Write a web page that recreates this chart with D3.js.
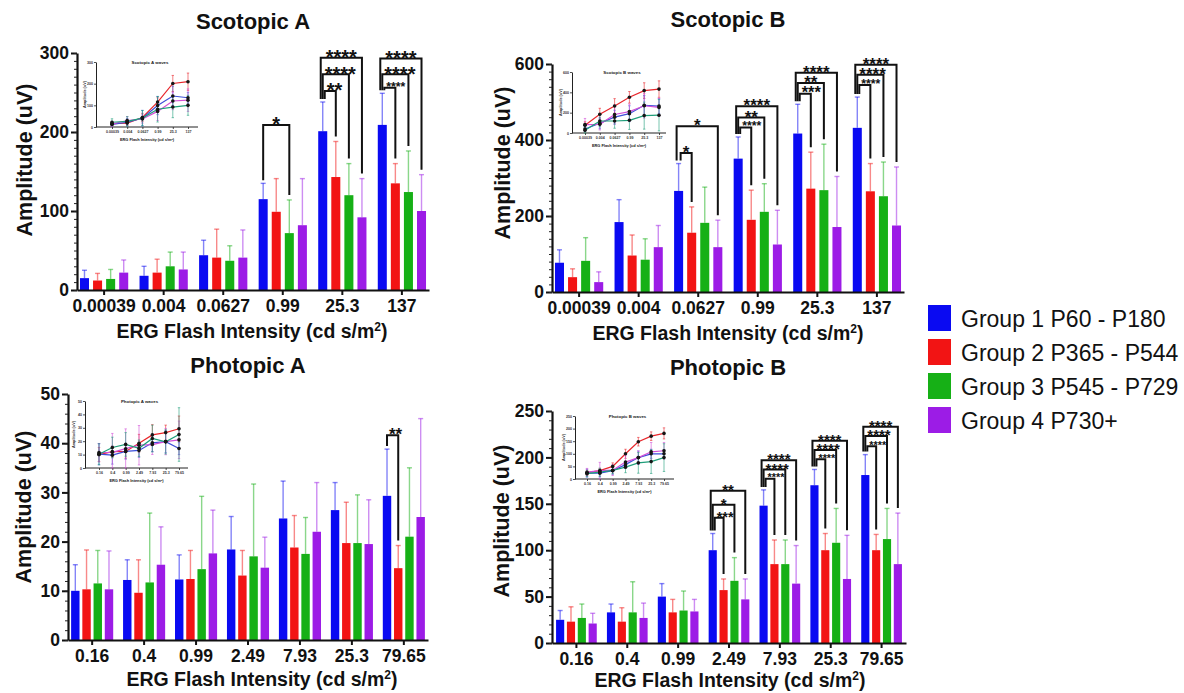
<!DOCTYPE html>
<html>
<head>
<meta charset="utf-8">
<script src="https://cdn.jsdelivr.net/npm/d3@7"></script>
<style>
  html, body { margin: 0; padding: 0; background: #fff; }
  svg { display: block; font-family: "Liberation Sans", Arial, Helvetica, sans-serif; }
</style>
</head>
<body>
<svg id="chart" width="1184" height="693"></svg>
<script>
// ---- data -------------------------------------------------------------
const groups = ["Group 1 P60 - P180", "Group 2 P365 - P544", "Group 3 P545 - P729", "Group 4 P730+"];
const scotopicIntensities = ["0.00039", "0.004", "0.0627", "0.99", "25.3", "137"];
const photopicIntensities = ["0.16", "0.4", "0.99", "2.49", "7.93", "25.3", "79.65"];

// mean amplitude (uV), one row per group
const scotAMean = [
  [15, 18, 44, 115, 201, 209],
  [12, 22, 41, 99, 143, 135],
  [14, 30, 37, 72, 120, 124],
  [22, 26, 41, 82, 92, 100]
];
const scotASd = [
  [10, 12, 19, 20, 37, 40],
  [9, 17, 36, 42, 45, 25],
  [12, 18, 19, 42, 40, 52],
  [16, 22, 35, 59, 49, 46]
];
const scotBMean = [
  [77, 184, 266, 351, 417, 432],
  [39, 96, 156, 190, 272, 265],
  [82, 85, 182, 211, 268, 252],
  [26, 118, 118, 125, 171, 175]
];
const scotBSd = [
  [34, 59, 72, 57, 77, 81],
  [22, 54, 68, 78, 96, 73],
  [61, 55, 94, 74, 121, 90],
  [27, 57, 71, 90, 133, 154]
];
const photAMean = [
  [10.0, 12.2, 12.3, 18.4, 24.7, 26.4, 29.3],
  [10.3, 9.6, 12.4, 13.1, 18.8, 19.7, 14.6],
  [11.5, 11.7, 14.4, 17.0, 17.5, 19.7, 21.0],
  [10.3, 15.3, 17.6, 14.7, 22.0, 19.5, 25.0]
];
const photASd = [
  [5.3, 4.1, 5.0, 6.7, 7.6, 5.6, 9.5],
  [8.0, 6.7, 5.8, 5.1, 6.5, 8.3, 4.6],
  [6.7, 14.1, 14.8, 14.7, 7.4, 9.8, 14.0],
  [7.8, 7.7, 8.8, 6.2, 10.0, 9.0, 20.0]
];
const photBMean = [
  [25, 33, 50, 100, 148, 170, 181],
  [23, 23, 33, 57, 85, 100, 100],
  [27, 33, 35, 67, 85, 108, 112],
  [21, 27, 34, 47, 64, 69, 85]
];
const photBSd = [
  [10, 9, 14, 18, 17, 17, 22],
  [16, 15, 14, 12, 26, 18, 17],
  [15, 33, 21, 25, 26, 37, 33],
  [11, 16, 13, 22, 41, 47, 55]
];

// significance vs Group 1: intensity, compared group index, stars, bracket height (uV)
const scotABrackets = [
  { at: "0.99", vs: 2, label: "*", level: 209 },
  { at: "25.3", vs: 3, label: "****", level: 294 },
  { at: "25.3", vs: 2, label: "****", level: 273 },
  { at: "25.3", vs: 1, label: "**", level: 252 },
  { at: "137", vs: 3, label: "****", level: 293 },
  { at: "137", vs: 2, label: "****", level: 273 },
  { at: "137", vs: 1, label: "****", level: 256 }
];
const scotBBrackets = [
  { at: "0.0627", vs: 3, label: "*", level: 436 },
  { at: "0.0627", vs: 1, label: "*", level: 366 },
  { at: "0.99", vs: 3, label: "****", level: 489 },
  { at: "0.99", vs: 2, label: "**", level: 459 },
  { at: "0.99", vs: 1, label: "****", level: 433 },
  { at: "25.3", vs: 3, label: "****", level: 577 },
  { at: "25.3", vs: 2, label: "**", level: 550 },
  { at: "25.3", vs: 1, label: "***", level: 522 },
  { at: "137", vs: 3, label: "****", level: 598 },
  { at: "137", vs: 2, label: "****", level: 572 },
  { at: "137", vs: 1, label: "****", level: 545 }
];
const photABrackets = [
  { at: "79.65", vs: 1, label: "**", level: 41.6 }
];
const photBBrackets = [
  { at: "2.49", vs: 3, label: "**", level: 164 },
  { at: "2.49", vs: 2, label: "*", level: 149 },
  { at: "2.49", vs: 1, label: "***", level: 135 },
  { at: "7.93", vs: 3, label: "****", level: 197 },
  { at: "7.93", vs: 2, label: "****", level: 187 },
  { at: "7.93", vs: 1, label: "****", level: 177 },
  { at: "25.3", vs: 3, label: "****", level: 218 },
  { at: "25.3", vs: 2, label: "****", level: 208 },
  { at: "25.3", vs: 1, label: "****", level: 198 },
  { at: "79.65", vs: 3, label: "****", level: 233 },
  { at: "79.65", vs: 2, label: "****", level: 223 },
  { at: "79.65", vs: 1, label: "****", level: 212 }
];

// ---- styling ------------------------------------------------------------
const groupColors = ["#0a0af2", "#f21414", "#16b016", "#9c1ce6"];
const insetColors = ["#e8262b", "#3d4fd8", "#d24fd6", "#1f9e7a"];

const svg = d3.select("#chart");

const panels = [
  {
    title: "Scotopic A", cats: scotopicIntensities, means: scotAMean, sds: scotASd, brackets: scotABrackets,
    left: 77, right: 429, top: 53, bottom: 290, yMax: 300, yTicks: [0, 100, 200, 300], minor: 10,
    padIn: 0.19, padOut: 0.05, barPad: 0.31, starSize: 20,
    titleX: 253, titleY: 29, yTitleX: 25, yTitleY: 160, xTitleX: 252, xTitleY: 338,
    inset: { title: "Scotopic A waves", left: 96, right: 198, top: 62, bottom: 127, p0: 112, p1: 188, yMax: 300, yTicks: [0, 100, 200, 300] }
  },
  {
    title: "Scotopic B", cats: scotopicIntensities, means: scotBMean, sds: scotBSd, brackets: scotBBrackets,
    left: 552, right: 904, top: 64, bottom: 292, yMax: 600, yTicks: [0, 200, 400, 600], minor: 20,
    padIn: 0.19, padOut: 0.05, barPad: 0.31, starSize: 17,
    titleX: 728, titleY: 27, yTitleX: 503, yTitleY: 163, xTitleX: 728, xTitleY: 340,
    inset: { title: "Scotopic B waves", left: 572, right: 666, top: 72, bottom: 133, p0: 585, p1: 659, yMax: 600, yTicks: [0, 200, 400, 600] }
  },
  {
    title: "Photopic A", cats: photopicIntensities, means: photAMean, sds: photASd, brackets: photABrackets,
    left: 68, right: 428, top: 394, bottom: 640, yMax: 50, yTicks: [0, 10, 20, 30, 40, 50], minor: 2,
    padIn: 0.19, padOut: 0.06, barPad: 0.25, starSize: 17,
    titleX: 248, titleY: 373, yTitleX: 24, yTitleY: 507, xTitleX: 262, xTitleY: 686,
    inset: { title: "Photopic A waves", left: 85, right: 188, top: 401, bottom: 468, p0: 99, p1: 179, yMax: 50, yTicks: [0, 10, 20, 30, 40, 50] }
  },
  {
    title: "Photopic B", cats: photopicIntensities, means: photBMean, sds: photBSd, brackets: photBBrackets,
    left: 552, right: 906, top: 411, bottom: 643, yMax: 250, yTicks: [0, 50, 100, 150, 200, 250], minor: 10,
    padIn: 0.2, padOut: 0.08, barPad: 0.25, starSize: 15,
    titleX: 728, titleY: 375, yTitleX: 502, yTitleY: 521, xTitleX: 730, xTitleY: 687,
    inset: { title: "Photopic B waves", left: 575, right: 674, top: 416, bottom: 479, p0: 587, p1: 664, yMax: 250, yTicks: [0, 50, 100, 150, 200, 250] }
  }
];

function addXTitle(g, x, y, size, bold) {
  const t = g.append("text")
    .attr("x", x).attr("y", y)
    .attr("text-anchor", "middle")
    .attr("font-size", size)
    .attr("font-weight", bold ? "bold" : "normal")
    .attr("fill", "#111");
  t.append("tspan").text("ERG Flash Intensity (cd s/m");
  t.append("tspan").attr("dy", -size * 0.38).attr("font-size", size * 0.62).text("2");
  t.append("tspan").attr("dy", size * 0.38).text(")");
}

function drawPanel(p) {
  const g = svg.append("g");
  const x0 = d3.scaleBand().domain(p.cats).range([p.left, p.right])
    .paddingInner(p.padIn).paddingOuter(p.padOut);
  const x1 = d3.scaleBand().domain(d3.range(groups.length)).range([0, x0.bandwidth()])
    .paddingInner(p.barPad);
  const y = d3.scaleLinear().domain([0, p.yMax]).range([p.bottom, p.top]);
  const cx = (cat, gi) => x0(cat) + x1(gi) + x1.bandwidth() / 2;

  const records = [];
  p.means.forEach((row, gi) => row.forEach((v, ci) => {
    records.push({ cat: p.cats[ci], gi, mean: v, sd: p.sds[gi][ci] });
  }));

  // bars
  g.append("g").selectAll("rect").data(records).join("rect")
    .attr("x", d => x0(d.cat) + x1(d.gi))
    .attr("width", x1.bandwidth())
    .attr("y", d => y(d.mean))
    .attr("height", d => y(0) - y(d.mean))
    .attr("fill", d => groupColors[d.gi]);

  // upper error bars
  const eb = g.append("g").selectAll("g").data(records).join("g")
    .attr("stroke", d => groupColors[d.gi])
    .attr("stroke-opacity", 0.5)
    .attr("stroke-width", 1.4);
  eb.append("line")
    .attr("x1", d => cx(d.cat, d.gi)).attr("x2", d => cx(d.cat, d.gi))
    .attr("y1", d => y(d.mean)).attr("y2", d => y(d.mean + d.sd));
  eb.append("line")
    .attr("x1", d => cx(d.cat, d.gi) - 2.5).attr("x2", d => cx(d.cat, d.gi) + 2.5)
    .attr("y1", d => y(d.mean + d.sd)).attr("y2", d => y(d.mean + d.sd));

  // axes
  const yAxis = g.append("g").attr("transform", `translate(${p.left},0)`)
    .call(d3.axisLeft(y).tickValues(p.yTicks).tickSize(6).tickPadding(2).tickSizeOuter(0));
  g.append("g").attr("transform", `translate(${p.left},0)`)
    .call(d3.axisLeft(y).tickValues(d3.range(0, p.yMax + 1e-9, p.minor)).tickSize(3).tickFormat(""))
    .call(s => s.select(".domain").remove())
    .selectAll("line").attr("stroke", "#222").attr("stroke-width", 1);
  const xAxis = g.append("g").attr("transform", `translate(0,${p.bottom})`)
    .call(d3.axisBottom(x0).tickSize(5).tickPadding(5).tickSizeOuter(0));
  [yAxis, xAxis].forEach(a => {
    a.select(".domain").attr("stroke", "#111").attr("stroke-width", 2.2);
    a.selectAll(".tick line").attr("stroke", "#111").attr("stroke-width", 2);
    a.selectAll(".tick text")
      .attr("font-family", "'Liberation Sans', Arial, sans-serif")
      .attr("font-size", 17.5).attr("font-weight", "bold").attr("fill", "#111");
  });

  // significance brackets
  const offsetFor = b => {
    const same = p.brackets.filter(o => o.at === b.at);
    if (same.length < 2) return 0;
    return b.vs === 3 ? -2 : b.vs === 1 ? 2 : 0;
  };
  const recOf = (cat, gi) => records.find(r => r.cat === cat && r.gi === gi);
  const starW = 0.389; // asterisk advance, em
  const geom = b => {
    const xl = cx(b.at, 0) + offsetFor(b);
    const xr = cx(b.at, b.vs);
    const span = xr - xl;
    const size = Math.min(p.starSize, (span + 8) / (starW * b.label.length));
    const w = size * starW * b.label.length;
    const start = Math.max((xl + xr) / 2 - w / 2, xl + 2);
    return { xl, xr, size, w, start };
  };
  const br = g.append("g").selectAll("g").data(p.brackets).join("g");
  br.append("path")
    .attr("fill", "none").attr("stroke", "#111").attr("stroke-width", 2)
    .attr("d", b => {
      const { xl, xr } = geom(b);
      const ly = y(b.level);
      const r0 = recOf(b.at, 0), r1 = recOf(b.at, b.vs);
      const yl = Math.max(ly, y(r0.mean + r0.sd) - 3);
      const yr = Math.max(ly, y(r1.mean + r1.sd) - 5);
      return `M${xl},${yl}V${ly}H${xr}V${yr}`;
    });
  br.append("text")
    .attr("x", b => geom(b).start)
    .attr("y", b => y(b.level) + geom(b).size * 0.44 - 2.5)
    .attr("font-size", b => geom(b).size).attr("font-weight", "bold").attr("fill", "#111")
    .text(b => b.label);

  // titles
  g.append("text").attr("x", p.titleX).attr("y", p.titleY)
    .attr("text-anchor", "middle").attr("font-size", 22).attr("font-weight", "bold")
    .attr("fill", "#111").text(p.title);
  g.append("text")
    .attr("transform", `translate(${p.yTitleX},${p.yTitleY}) rotate(-90)`)
    .attr("text-anchor", "middle").attr("dominant-baseline", "central")
    .attr("font-size", 21.5).attr("font-weight", "bold").attr("fill", "#111")
    .text("Amplitude (uV)");
  addXTitle(g, p.xTitleX, p.xTitleY, 19.5, true);

  drawInset(p, p.inset);
}

function drawInset(p, s) {
  const g = svg.append("g");
  const x = d3.scalePoint().domain(p.cats).range([s.p0, s.p1]);
  const y = d3.scaleLinear().domain([0, s.yMax]).range([s.bottom, s.top]);

  const ya = g.append("g").attr("transform", `translate(${s.left},0)`)
    .call(d3.axisLeft(y).tickValues(s.yTicks).tickSize(2).tickPadding(1).tickSizeOuter(0));
  const xa = g.append("g").attr("transform", `translate(0,${s.bottom})`)
    .call(d3.axisBottom(x).tickSize(2).tickPadding(1).tickSizeOuter(0));
  xa.select(".domain").attr("d", `M${s.left},0H${s.right}`);
  [ya, xa].forEach(a => {
    a.select(".domain").attr("stroke", "#222").attr("stroke-width", 1);
    a.selectAll(".tick line").attr("stroke", "#222").attr("stroke-width", 0.8);
    a.selectAll(".tick text").attr("font-size", 3.6).attr("font-weight", "bold").attr("fill", "#333");
  });

  const line = d3.line().x((d, i) => x(p.cats[i])).y(d => y(d));
  p.means.forEach((row, gi) => {
    const col = insetColors[gi];
    row.forEach((v, ci) => {
      const sd = p.sds[gi][ci];
      const xc = x(p.cats[ci]);
      const lo = y(Math.max(0, v - sd)), hi = y(v + sd);
      g.append("path").attr("d", `M${xc},${lo}V${hi}M${xc - 1.2},${hi}H${xc + 1.2}M${xc - 1.2},${lo}H${xc + 1.2}`)
        .attr("stroke", col).attr("stroke-opacity", 0.75).attr("stroke-width", 0.8).attr("fill", "none");
    });
    g.append("path").datum(row).attr("d", line)
      .attr("fill", "none").attr("stroke", col).attr("stroke-width", 1.2);
  });
  p.means.forEach(row => {
    g.append("g").selectAll("circle").data(row).join("circle")
      .attr("cx", (d, i) => x(p.cats[i])).attr("cy", d => y(d))
      .attr("r", 1.8).attr("fill", "#151515");
  });

  g.append("text").attr("x", (s.left + s.right) / 2 + 3).attr("y", s.top + 1.5)
    .attr("text-anchor", "middle").attr("font-size", 4.4).attr("font-weight", "bold")
    .attr("fill", "#222").text(s.title);
  g.append("text")
    .attr("transform", `translate(${s.left - 10},${(s.top + s.bottom) / 2}) rotate(-90)`)
    .attr("text-anchor", "middle").attr("font-size", 3.8).attr("font-weight", "bold")
    .attr("fill", "#333").text("Amplitude (uV)");
  addXTitle(g, (s.left + s.right) / 2, s.bottom + 14, 3.9, true);
}

panels.forEach(drawPanel);

// legend
const legend = svg.append("g").attr("transform", "translate(928,305)");
const items = legend.selectAll("g").data(groups).join("g")
  .attr("transform", (d, i) => `translate(0,${i * 34})`);
items.append("rect").attr("width", 23).attr("height", 26)
  .attr("fill", (d, i) => groupColors[i]);
items.append("text").attr("x", 33).attr("y", 21.5)
  .attr("font-size", 23).attr("fill", "#111").text(d => d);
</script>
</body>
</html>
